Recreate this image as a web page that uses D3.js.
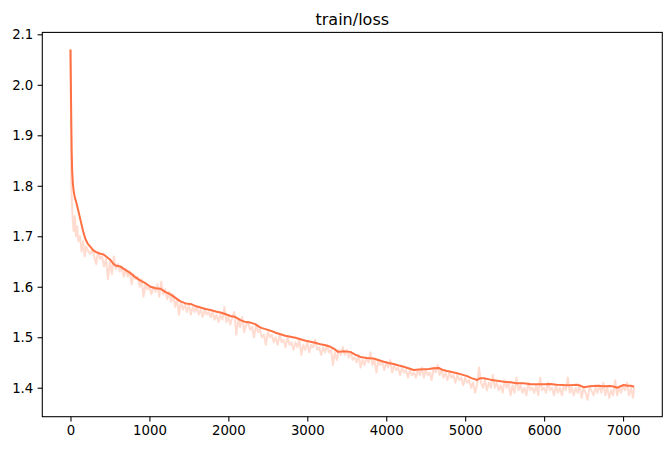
<!DOCTYPE html>
<html><head><meta charset="utf-8">
<script src="https://cdn.jsdelivr.net/npm/d3@7"></script>
<style>html,body{margin:0;padding:0;background:#fff}svg{display:block}text{font-family:"DejaVu Sans",sans-serif;fill:#000}</style>
</head><body><svg id="c" width="671" height="451"></svg>
<script>
const title = "train/loss";
const xTicks = [0,1000,2000,3000,4000,5000,6000,7000];
const yTicks = [1.4,1.5,1.6,1.7,1.8,1.9,2.0,2.1];
// raw loss (step, value)
const rawData = [[0,2.07],[10,1.80],[20,1.76],[30,1.73],[40,1.71],[55,1.74],[70,1.70],[85,1.72],[100,1.69],[120,1.70],[140,1.67],[160,1.69],[180,1.66],[200,1.68],[225,1.67],[250,1.665],[275,1.675],[300,1.66],[325,1.645],[350,1.67],[375,1.655],[400,1.66],[425,1.64],[450,1.655],[475,1.615],[500,1.65],[525,1.625],[550,1.66],[575,1.635],[600,1.645],[625,1.63],[650,1.64],[675,1.62],[700,1.635],[725,1.62],[750,1.63],[775,1.605],[800,1.625],[825,1.615],[850,1.62],[875,1.60],[900,1.615],[925,1.58],[950,1.605],[975,1.595],[1000,1.60],[1025,1.585],[1050,1.60],[1075,1.59],[1100,1.605],[1125,1.58],[1150,1.61],[1175,1.585],[1200,1.595],[1225,1.575],[1250,1.59],[1275,1.57],[1300,1.585],[1325,1.56],[1350,1.575],[1375,1.545],[1400,1.57],[1425,1.555],[1450,1.565],[1475,1.55],[1500,1.565],[1525,1.545],[1550,1.56],[1575,1.55],[1600,1.56],[1625,1.545],[1650,1.555],[1675,1.54],[1700,1.555],[1725,1.545],[1750,1.55],[1775,1.54],[1800,1.55],[1825,1.535],[1850,1.545],[1875,1.53],[1900,1.545],[1925,1.535],[1950,1.56],[1975,1.53],[2000,1.54],[2025,1.525],[2050,1.54],[2075,1.55],[2100,1.505],[2125,1.535],[2150,1.52],[2175,1.54],[2200,1.51],[2225,1.525],[2250,1.53],[2275,1.515],[2300,1.52],[2325,1.50],[2350,1.525],[2375,1.51],[2400,1.515],[2425,1.50],[2450,1.505],[2475,1.485],[2500,1.51],[2525,1.50],[2550,1.505],[2575,1.49],[2600,1.50],[2625,1.485],[2650,1.505],[2675,1.49],[2700,1.495],[2725,1.48],[2750,1.50],[2775,1.485],[2800,1.49],[2825,1.475],[2850,1.49],[2875,1.48],[2900,1.495],[2925,1.465],[2950,1.485],[2975,1.475],[3000,1.49],[3025,1.47],[3050,1.485],[3075,1.48],[3100,1.495],[3125,1.475],[3150,1.48],[3175,1.465],[3200,1.48],[3225,1.47],[3250,1.485],[3275,1.47],[3300,1.475],[3325,1.445],[3350,1.47],[3375,1.455],[3400,1.475],[3425,1.465],[3450,1.48],[3475,1.465],[3500,1.475],[3525,1.46],[3550,1.47],[3575,1.455],[3600,1.46],[3625,1.45],[3650,1.465],[3675,1.44],[3700,1.455],[3725,1.445],[3750,1.46],[3775,1.45],[3800,1.47],[3825,1.445],[3850,1.455],[3875,1.43],[3900,1.455],[3925,1.445],[3950,1.45],[3975,1.435],[4000,1.45],[4025,1.44],[4050,1.455],[4075,1.43],[4100,1.445],[4125,1.435],[4150,1.44],[4175,1.425],[4200,1.44],[4225,1.43],[4250,1.435],[4275,1.42],[4300,1.435],[4325,1.425],[4350,1.43],[4375,1.42],[4400,1.435],[4425,1.425],[4450,1.44],[4475,1.42],[4500,1.435],[4525,1.425],[4550,1.43],[4575,1.415],[4600,1.44],[4625,1.43],[4650,1.445],[4675,1.425],[4700,1.435],[4725,1.42],[4750,1.43],[4775,1.415],[4800,1.43],[4825,1.42],[4850,1.425],[4875,1.41],[4900,1.425],[4925,1.415],[4950,1.42],[4975,1.405],[5000,1.42],[5025,1.41],[5050,1.415],[5075,1.40],[5100,1.41],[5125,1.39],[5150,1.405],[5175,1.44],[5200,1.41],[5225,1.40],[5250,1.415],[5275,1.395],[5300,1.41],[5325,1.40],[5350,1.425],[5375,1.40],[5400,1.41],[5425,1.395],[5450,1.405],[5475,1.39],[5500,1.415],[5525,1.40],[5550,1.41],[5575,1.385],[5600,1.405],[5625,1.39],[5650,1.42],[5675,1.395],[5700,1.405],[5725,1.39],[5750,1.40],[5775,1.385],[5800,1.41],[5825,1.395],[5850,1.40],[5875,1.39],[5900,1.405],[5925,1.385],[5950,1.42],[5975,1.395],[6000,1.40],[6025,1.39],[6050,1.41],[6075,1.395],[6100,1.40],[6125,1.385],[6150,1.405],[6175,1.39],[6200,1.40],[6225,1.385],[6250,1.405],[6275,1.395],[6300,1.42],[6325,1.39],[6350,1.40],[6375,1.385],[6400,1.40],[6425,1.39],[6450,1.405],[6475,1.38],[6500,1.40],[6525,1.39],[6550,1.376],[6575,1.40],[6600,1.395],[6625,1.385],[6650,1.40],[6675,1.39],[6700,1.405],[6725,1.39],[6750,1.41],[6775,1.385],[6800,1.40],[6825,1.38],[6850,1.395],[6875,1.385],[6900,1.415],[6925,1.385],[6950,1.40],[6975,1.39],[7000,1.405],[7025,1.395],[7050,1.41],[7075,1.385],[7100,1.40],[7125,1.38],[7140,1.40]];
// smoothed loss (step, value)
const smoothData = [[0,2.070],[5,2.00],[10,1.93],[15,1.87],[21,1.83],[30,1.805],[40,1.790],[55,1.777],[72,1.768],[100,1.750],[127,1.732],[160,1.710],[190,1.694],[220,1.685],[253,1.679],[290,1.672],[330,1.668],[370,1.666],[418,1.664],[460,1.659],[507,1.653],[540,1.646],[570,1.642],[633,1.640],[700,1.633],[760,1.627],[820,1.619],[887,1.612],[950,1.607],[1013,1.600],[1080,1.597],[1140,1.596],[1200,1.590],[1267,1.585],[1330,1.578],[1393,1.571],[1460,1.567],[1520,1.566],[1580,1.562],[1647,1.559],[1710,1.556],[1773,1.554],[1840,1.551],[1900,1.549],[1960,1.546],[2026,1.542],[2090,1.540],[2153,1.534],[2220,1.530],[2280,1.529],[2340,1.526],[2407,1.519],[2470,1.516],[2533,1.513],[2600,1.509],[2660,1.506],[2720,1.503],[2787,1.501],[2850,1.499],[2913,1.496],[2980,1.493],[3040,1.491],[3100,1.489],[3167,1.486],[3230,1.484],[3293,1.481],[3340,1.477],[3390,1.471],[3450,1.472],[3546,1.471],[3600,1.466],[3673,1.461],[3750,1.459],[3838,1.458],[3900,1.455],[3968,1.4515],[4030,1.449],[4095,1.447],[4160,1.444],[4222,1.4416],[4290,1.438],[4348,1.435],[4410,1.436],[4475,1.4364],[4540,1.437],[4602,1.4384],[4665,1.439],[4720,1.435],[4770,1.433],[4830,1.431],[4898,1.4285],[4960,1.426],[5025,1.423],[5080,1.419],[5152,1.4153],[5190,1.419],[5235,1.4186],[5320,1.416],[5405,1.414],[5490,1.412],[5573,1.4107],[5650,1.409],[5742,1.4087],[5830,1.407],[5911,1.4067],[6000,1.407],[6080,1.4073],[6160,1.406],[6248,1.4053],[6330,1.405],[6418,1.406],[6460,1.404],[6502,1.401],[6580,1.403],[6670,1.404],[6750,1.403],[6840,1.4034],[6890,1.402],[6925,1.400],[6970,1.403],[7008,1.4053],[7060,1.404],[7100,1.404],[7140,1.402]];

const color = "#ff7043";
const svg = d3.select("#c");
const L = 42.3, R = 662.3, T = 32.4, B = 416.7;
const x = d3.scaleLinear().domain([-357, 7497]).range([L, R]);
const y = d3.scaleLinear().domain([1.3426, 2.1038]).range([B, T]);

const line = d3.line().x(d => x(d[0])).y(d => y(d[1]));
const g = svg.append("g");
g.append("path").datum(rawData).attr("d", line).attr("fill","none")
  .attr("stroke", color).attr("stroke-opacity", 0.25).attr("stroke-width", 2).attr("stroke-linejoin","round");
g.append("path").datum(smoothData).attr("d", line).attr("fill","none")
  .attr("stroke", color).attr("stroke-width", 2).attr("stroke-linejoin","round");

const xAxis = d3.axisBottom(x).tickValues(xTicks).tickFormat(d3.format("d")).tickSizeInner(4.7).tickSizeOuter(0).tickPadding(4.3);
const yAxis = d3.axisLeft(y).tickValues(yTicks).tickFormat(d3.format(".1f")).tickSizeInner(4.7).tickSizeOuter(0).tickPadding(4.3);
const gx = svg.append("g").attr("transform", `translate(0,${B})`).call(xAxis);
const gy = svg.append("g").attr("transform", `translate(${L},0)`).call(yAxis);
[gx, gy].forEach(a => {
  a.select(".domain").remove();
  a.selectAll("line").attr("stroke","#000").attr("stroke-width",1.07);
  a.selectAll("text").attr("font-family","DejaVu Sans").attr("font-size","13.3px").attr("fill","#000");
});
gx.selectAll("text").attr("dy","0.71em");
gy.selectAll("text").attr("dy","0.35em");

svg.append("rect").attr("x",L).attr("y",T).attr("width",R-L).attr("height",B-T)
  .attr("fill","none").attr("stroke","#000").attr("stroke-width",1.07);

svg.append("text").attr("x",(L+R)/2).attr("y",25).attr("text-anchor","middle")
  .attr("font-size","16px").text(title);
</script></body></html>
